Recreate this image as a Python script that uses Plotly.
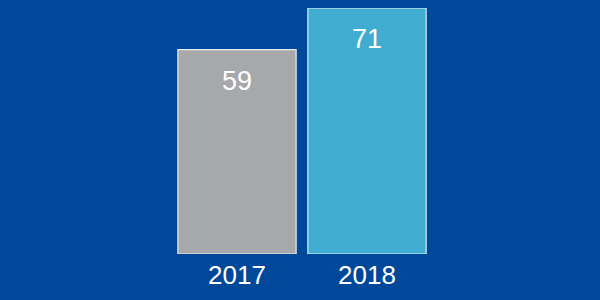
import plotly.graph_objects as go

years = ["2017", "2018"]
values = [59, 71]
colors = ["#A7A8AA", "#3FACD0"]

fig = go.Figure()
fig.add_trace(go.Bar(
    x=years, y=values,
    marker=dict(color=colors, line=dict(color="rgba(255,255,255,0.85)", width=1.2)),
    hoverinfo="skip",
))
for i, v in enumerate(values):
    fig.add_annotation(x=i, y=v, xref="x", yref="y", text=str(v), showarrow=False,
                       yanchor="middle", yshift=-31,
                       font=dict(color="white", size=27,
                                 family="Liberation Sans, Arial, sans-serif"))

fig.update_layout(
    width=600, height=300,
    margin=dict(l=172, r=168, t=8, b=46),
    paper_bgcolor="#00489A", plot_bgcolor="#00489A",
    bargap=0.09, showlegend=False,
    font=dict(family="Liberation Sans, Arial, sans-serif", color="white", size=26),
    xaxis=dict(type="category", showgrid=False, zeroline=False, showline=False, ticks="",
               tickfont=dict(size=26, color="white"), range=[-0.5, 1.5],
               ticklabelstandoff=3),
    yaxis=dict(showgrid=False, zeroline=False, showline=False, showticklabels=False,
               ticks="", range=[0, 71]),
)
fig.write_html("out.html")
